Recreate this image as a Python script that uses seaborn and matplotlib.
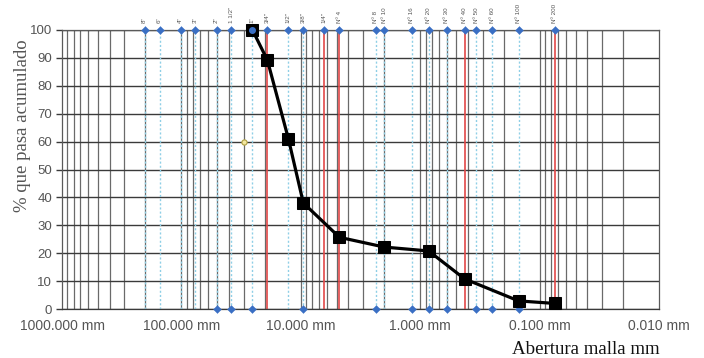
import matplotlib
matplotlib.use("Agg")
import matplotlib.pyplot as plt
import matplotlib.transforms as mtransforms
import numpy as np
import pandas as pd
import seaborn as sns

# ---- data ----
sieve_labels = ['8"', '6"', '4"', '3"', '2"', '1 1/2"', '1"', '3/4"', '1/2"', '3/8"', '1/4"',
                'Nº 4', 'Nº 8', 'Nº 10', 'Nº 16', 'Nº 20', 'Nº 30', 'Nº 40', 'Nº 50', 'Nº 60',
                'Nº 100', 'Nº 200']
sieve_mm = [203.2, 152.4, 101.6, 76.2, 50.8, 38.1, 25.4, 19.05, 12.7, 9.525, 6.35,
            4.75, 2.36, 2.0, 1.18, 0.85, 0.6, 0.425, 0.34, 0.25, 0.15, 0.075]
red_sieves = ['3/4"', '1/4"', 'Nº 4', 'Nº 40', 'Nº 200']
bottom_marked = ['2"', '1 1/2"', '1"', '3/8"', 'Nº 8', 'Nº 16', 'Nº 20', 'Nº 30',
                 'Nº 50', 'Nº 60', 'Nº 100']

curve_mm = [25.4, 19.05, 12.7, 9.525, 4.75, 2.0, 0.85, 0.425, 0.15, 0.075]
curve_pct = [100, 89.2, 61.0, 38.0, 25.7, 22.2, 20.8, 10.8, 2.9, 2.0]

extra_mm = [30.0]
extra_pct = [60.0]

xtick_vals = [1000, 100, 10, 1, 0.1, 0.01]
xtick_labels = ['1000.000 mm', '100.000 mm', '10.000 mm', '1.000 mm', '0.100 mm', '0.010 mm']
ytick_vals = list(range(0, 101, 10))

# ---- figure ----
sns.set_style("white")
plt.rcParams['font.family'] = ['Liberation Sans', 'DejaVu Sans']
fig = plt.figure(figsize=(7.04, 3.58), dpi=100)
W, H = 704, 358
ax = fig.add_axes([62 / W, (H - 309) / H, (659 - 62) / W, (309 - 30) / H])
ax.set_xscale('log')
ax.set_xlim(1000, 0.01)
ax.set_ylim(0, 100)

# minor vertical grid (1..9 x decade)
for e in range(-2, 3):
    for m in range(1, 10):
        v = m * 10.0 ** e
        if 0.01 < v < 1000:
            ax.axvline(v, color='#6a6a6a', lw=0.9, zorder=1)
# horizontal grid
for yv in ytick_vals:
    ax.axhline(yv, color='#3a3a3a', lw=1.0, zorder=1)

# sieve lines
for lab, d in zip(sieve_labels, sieve_mm):
    if lab in red_sieves:
        ax.axvline(d, color='#e24848', lw=1.2, zorder=2)
    else:
        ax.axvline(d, color='#8fcfe6', lw=1.0, ls=(0, (1.5, 1.5)), zorder=2)

# markers at top & bottom
top_df = pd.DataFrame({'d': sieve_mm, 'p': [100] * len(sieve_mm)})
bot_d = [d for lab, d in zip(sieve_labels, sieve_mm) if lab in bottom_marked]
bot_df = pd.DataFrame({'d': bot_d, 'p': [0] * len(bot_d)})
for df in (top_df, bot_df):
    sns.scatterplot(data=df, x='d', y='p', marker='D', s=16, color='#3a6fc4',
                    edgecolor='#3a6fc4', ax=ax, zorder=4, clip_on=False, legend=False)

# curve
cdf = pd.DataFrame({'d': curve_mm, 'p': curve_pct})
sns.lineplot(data=cdf, x='d', y='p', color='black', lw=2.3, marker='s', markersize=9,
             markeredgecolor='black', markerfacecolor='black', ax=ax, zorder=5,
             sort=False, legend=False)
ax.lines[-1].set_clip_on(False)
ax.plot([curve_mm[0]], [curve_pct[0]], marker='o', ms=4, color='#3a6fc4', zorder=6,
        clip_on=False)

edf = pd.DataFrame({'d': extra_mm, 'p': extra_pct})
sns.scatterplot(data=edf, x='d', y='p', marker='o', s=14, color='#f3e7a0',
                edgecolor='#b0a040', linewidth=0.8, ax=ax, zorder=5, legend=False)

# top labels
trans = mtransforms.blended_transform_factory(ax.transData, ax.transAxes)
for lab, d in zip(sieve_labels, sieve_mm):
    ax.text(d, 1.025, lab, rotation=90, fontsize=4.5, color='#555555',
            ha='center', va='bottom', transform=trans)

# ticks
ax.set_xticks(xtick_vals)
ax.set_xticklabels(xtick_labels, fontsize=10, color='#555555')
ax.xaxis.set_minor_locator(matplotlib.ticker.NullLocator())
ax.set_yticks(ytick_vals)
ax.set_yticklabels([str(v) for v in ytick_vals], fontsize=9.5, color='#555555')
ax.tick_params(axis='x', length=0, pad=7)
ax.tick_params(axis='y', length=4, width=1, color='#3a3a3a', pad=3, left=True)

for s in ['top', 'right', 'left', 'bottom']:
    ax.spines[s].set_color('#5a5a5a')
    ax.spines[s].set_linewidth(0.9)
ax.spines['bottom'].set_color('#3a3a3a')

ax.set_xlabel('')
ax.set_ylabel('% que pasa acumulado', family=['Liberation Serif'], fontsize=13.5,
              color='#555555', labelpad=5)
ax.yaxis.set_label_coords(-0.052, 0.656)
fig.text(586 / W, 1 - 349 / H, 'Abertura malla mm', family=['Liberation Serif'],
         fontsize=13.6, color='#111111', ha='center', va='center')

fig.savefig('out.png', dpi=100)
